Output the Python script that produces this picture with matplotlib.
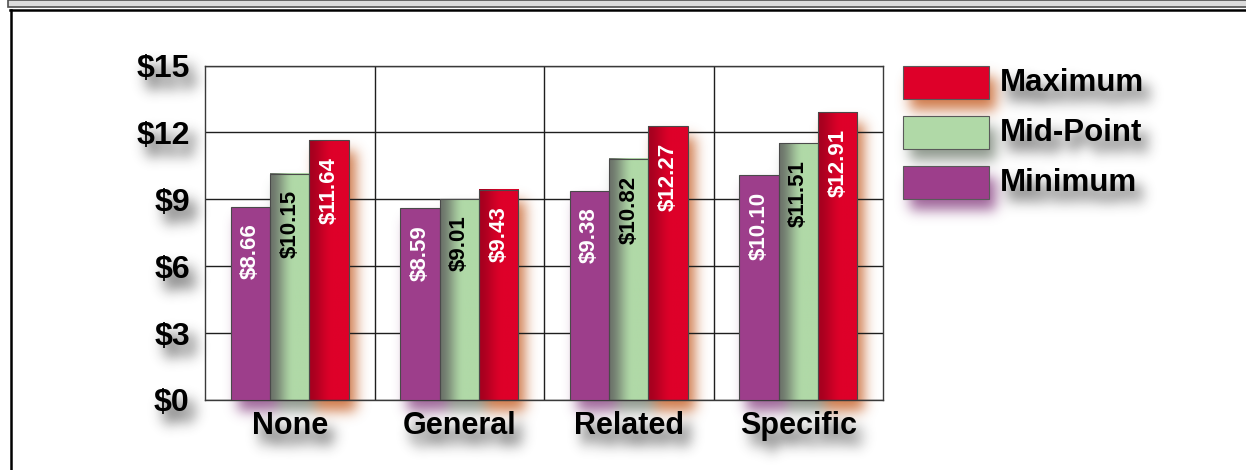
import numpy as np
import matplotlib
matplotlib.use('Agg')
import matplotlib.pyplot as plt
from matplotlib.patches import Rectangle
from matplotlib.lines import Line2D
from matplotlib.colors import to_rgb

# Dane wykresu
categories = ['None', 'General', 'Related', 'Specific']
series = ['Minimum', 'Mid-Point', 'Maximum']
minimum = [8.66, 8.59, 9.38, 10.10]
midpoint = [10.15, 9.01, 10.82, 11.51]
maximum = [11.64, 9.43, 12.27, 12.91]
y_ticks = [0, 3, 6, 9, 12, 15]

W, H = 1246, 470

plt.rcParams['font.family'] = ['Liberation Sans', 'DejaVu Sans']
plt.rcParams['font.weight'] = 'bold'

# kolory: (wypelnienie, ciemna strona gradientu, kolor cienia, kolor etykiety)
styles = {
    'Minimum': ('#9d3e8b', None, '#8e4a88', 'white'),
    'Mid-Point': ('#b0d9a7', '#6d756b', '#7c877a', 'black'),
    'Maximum': ('#de0029', '#a6001f', '#c8642c', 'white'),
}
TEXT_SHADOW = '#262626'


def fx(px):
    return px / W


def fy(py):
    return 1 - py / H


def gradient(dark, light, n=64):
    t = np.linspace(0, 1, n)
    f = np.clip(t / 0.6, 0, 1)
    f = f * f * (3 - 2 * f)
    d, l = np.array(to_rgb(dark)), np.array(to_rgb(light))
    return (d + (l - d) * f[:, None])[None, :, :]


def draw_chart(fig, shadow=False):
    ax = fig.add_axes([fx(205), fy(400), fx(883) - fx(205), fy(65.5) - fy(400)])
    ax.set_facecolor('none')
    x = np.arange(len(categories))
    w = 0.233
    tick_color = TEXT_SHADOW if shadow else 'black'

    for i, (name, vals) in enumerate(zip(series, [minimum, midpoint, maximum])):
        face, dark, shcol, lblcol = styles[name]
        pos = x + (i - 1) * w
        if shadow:
            ax.bar(pos, vals, w, color=shcol, linewidth=0, zorder=3)
            continue
        bars = ax.bar(pos, vals, w, color=face, edgecolor='#4a4a4a',
                      linewidth=0.8, zorder=3)
        if dark is not None:
            for b in bars:
                b.set_facecolor('none')
                ax.imshow(gradient(dark, face),
                          extent=[b.get_x(), b.get_x() + b.get_width(), 0, b.get_height()],
                          aspect='auto', zorder=2.5, interpolation='bilinear')
        for xi, v in zip(pos, vals):
            ax.annotate(f'${v:.2f}', xy=(xi, v), xytext=(0, -12),
                        textcoords='offset points', rotation=90, ha='center',
                        va='top', fontsize=16, fontweight='bold',
                        color=lblcol, zorder=4)

    ax.set_xlim(-0.5, len(categories) - 0.5)
    ax.set_ylim(0, 15)
    ax.set_yticks(y_ticks)
    ax.set_yticklabels([f'${v}' for v in y_ticks], fontsize=23,
                       fontweight='bold', color=tick_color)
    ax.set_xticks(x)
    ax.set_xticklabels(categories, fontsize=22, fontweight='bold', color=tick_color)
    ax.set_xticks(x[:-1] + 0.5, minor=True)
    ax.tick_params(axis='both', which='both', length=0)
    ax.tick_params(axis='y', pad=11)
    ax.tick_params(axis='x', pad=8)

    if shadow:
        for s in ax.spines.values():
            s.set_visible(False)
    else:
        ax.grid(axis='y', which='major', color='#1e1e1e', linewidth=1.0, zorder=1)
        ax.grid(axis='x', which='minor', color='#1e1e1e', linewidth=1.0, zorder=1)
        ax.set_axisbelow(True)
        for s in ax.spines.values():
            s.set_color('#3a3a3a')
            s.set_linewidth(1.0)

    # legenda
    for k, name in enumerate(series[::-1]):
        face, dark, shcol, lblcol = styles[name]
        top = 66 + k * 50
        fig.add_artist(Rectangle((fx(903), fy(top + 33)), 86 / W, 33 / H,
                                 transform=fig.transFigure,
                                 facecolor=shcol if shadow else face,
                                 edgecolor='none' if shadow else '#5a5a5a',
                                 linewidth=0.8))
        fig.text(fx(1000), fy(top + 17), name, fontsize=22.5, fontweight='bold',
                 color=tick_color, va='center', ha='left')
    return ax


def blur(img, sigma):
    r = int(3 * sigma)
    k = np.exp(-0.5 * (np.arange(-r, r + 1) / sigma) ** 2)
    k /= k.sum()
    p = np.pad(img, ((r, r), (r, r), (0, 0)))
    out = np.zeros_like(p)
    for j, kv in enumerate(k):
        out[r:-r, :] += kv * p[j:j + img.shape[0], :]
    tmp = out
    out = np.zeros_like(p)
    for j, kv in enumerate(k):
        out[:, r:-r] += kv * tmp[:, j:j + img.shape[1]]
    return out[r:-r, r:-r]


# warstwa cienia
sfig = plt.figure(figsize=(W / 100, H / 100), dpi=100)
sfig.patch.set_alpha(0)
draw_chart(sfig, shadow=True)
sfig.canvas.draw()
buf = np.asarray(sfig.canvas.buffer_rgba()).astype(float) / 255
plt.close(sfig)

dx, dy = 7, 11
shifted = np.zeros_like(buf)
shifted[dy:, dx:] = buf[:-dy, :-dx]
pre = shifted.copy()
pre[..., :3] *= pre[..., 3:4]
pre = blur(pre, 6.5)
a = pre[..., 3:4]
rgb = np.where(a > 1e-4, pre[..., :3] / np.maximum(a, 1e-4), 0)
shadow_img = np.concatenate([np.clip(rgb, 0, 1), np.clip(a * 0.85, 0, 1)], axis=2)

# wykres glowny
fig = plt.figure(figsize=(W / 100, H / 100), dpi=100, facecolor='white')
fig.figimage(shadow_img, 0, 0, origin='upper', zorder=-10)
draw_chart(fig)

# ramka
fig.add_artist(Rectangle((fx(8), fy(6.5)), 1, 6.5 / H, transform=fig.transFigure,
                         facecolor='#dcdcdc', edgecolor='#505050', linewidth=1.2))
fig.add_artist(Line2D([fx(10), 1], [fy(10), fy(10)], transform=fig.transFigure,
                      color='black', linewidth=1.8))
fig.add_artist(Line2D([fx(10.5), fx(10.5)], [fy(10), 0], transform=fig.transFigure,
                      color='black', linewidth=1.8))

fig.savefig('out.png', dpi=100)
